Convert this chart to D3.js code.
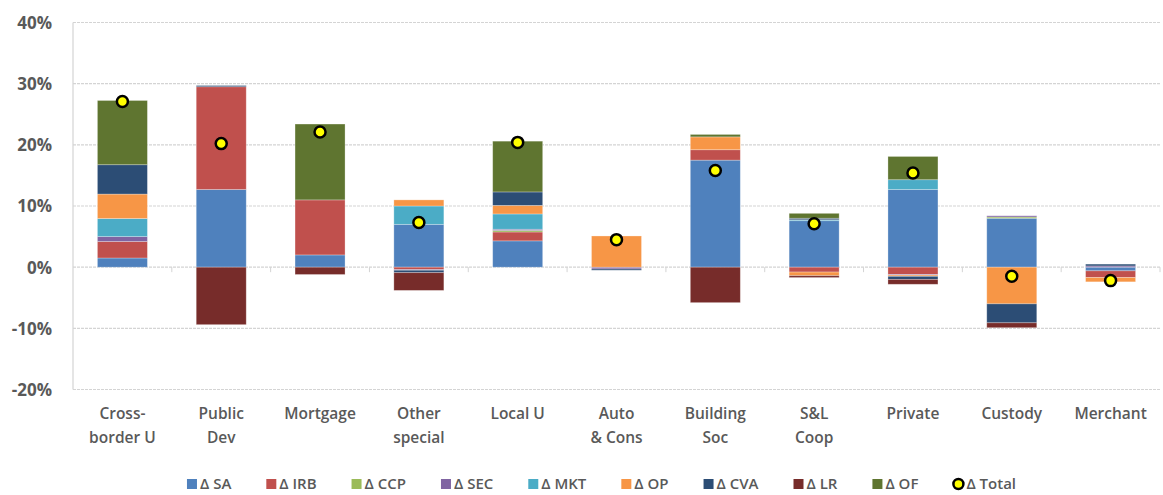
<!DOCTYPE html>
<html><head><meta charset="utf-8">
<script src="https://cdn.jsdelivr.net/npm/d3@7"></script>
<style>
body{margin:0;background:#fff;}
text{font-family:"Open Sans","Liberation Sans",sans-serif;}
</style></head>
<body><svg id="chart" width="1163" height="495"></svg>
<script>
const categories = ["Cross-border U","Public Dev","Mortgage","Other special","Local U","Auto & Cons","Building Soc","S&L Coop","Private","Custody","Merchant"];
const categoryLines = [["Cross-","border U"],["Public","Dev"],["Mortgage"],["Other","special"],["Local U"],["Auto","& Cons"],["Building","Soc"],["S&L","Coop"],["Private"],["Custody"],["Merchant"]];
const seriesNames = ["Δ SA","Δ IRB","Δ CCP","Δ SEC","Δ MKT","Δ OP","Δ CVA","Δ LR","Δ OF"];
const seriesColors = ["#4F81BD","#C0504D","#9BBB59","#8064A2","#4BACC6","#F79646","#2C4D75","#772C2A","#5F7530"];
const dSA  = [1.5, 12.7, 2.0, 7.0, 4.3, 0, 17.5, 7.6, 12.7, 8.0, -0.6];
const dIRB = [2.7, 16.8, 9.0, -0.4, 1.45, 0, 1.7, -0.8, -1.2, 0, -1.1];
const dCCP = [0, 0, 0, 0, 0.25, 0, 0, 0, 0, 0.2, 0];
const dSEC = [0.8, 0, 0, -0.1, 0.2, -0.3, 0, 0, -0.1, 0.2, 0.2];
const dMKT = [2.95, 0, 0, 3.0, 2.5, 0, 0, 0.15, 1.6, 0, 0];
const dOP  = [4.0, 0, 0, 1.0, 1.4, 5.1, 2.1, -0.6, -0.2, -6.0, -0.7];
const dCVA = [4.8, 0.2, 0, -0.4, 2.2, -0.2, 0, 0.25, -0.5, -3.1, 0.3];
const dLR  = [0, -9.4, -1.2, -2.9, 0, 0, -5.8, -0.3, -0.8, -0.8, 0];
const dOF  = [10.5, 0, 12.4, 0, 8.3, 0, 0.4, 0.8, 3.8, 0, 0];
const dTotal = [27.1, 20.2, 22.1, 7.3, 20.4, 4.5, 15.8, 7.1, 15.4, -1.5, -2.2];
const yTicks = [-20, -10, 0, 10, 20, 30, 40];
const totalName = "Δ Total";

const seriesValues = [dSA,dIRB,dCCP,dSEC,dMKT,dOP,dCVA,dLR,dOF];
const rows = categories.map((c,i)=>{
  const r = {cat:c};
  seriesNames.forEach((s,j)=> r[s] = seriesValues[j][i]);
  return r;
});

const svg = d3.select("#chart");
const pL = 73, pR = 1160, pT = 22.5, pB = 389.5;
const x = d3.scaleBand().domain(categories).range([pL,pR]).paddingInner(0).paddingOuter(0);
const y = d3.scaleLinear().domain([-20,40]).range([pB,pT]);
const gridColor = "#d4d4d4";

// gridlines
svg.append("g").selectAll("line").data(yTicks).join("line")
  .attr("x1",pL).attr("x2",pR)
  .attr("y1",d=>y(d)).attr("y2",d=>y(d))
  .attr("stroke",gridColor).attr("stroke-width",1.2).attr("stroke-dasharray","3,1");
// left axis line
svg.append("line").attr("x1",pL).attr("x2",pL).attr("y1",pT).attr("y2",pB)
  .attr("stroke",gridColor).attr("stroke-width",1.2);

// y labels
const yAxis = d3.axisLeft(y).tickValues(yTicks).tickFormat(d=>d+"%").tickSize(0).tickPadding(0);
const gy = svg.append("g").attr("transform",`translate(52,0)`).call(yAxis);
gy.select(".domain").remove();
gy.selectAll("text").attr("font-size",17).attr("font-weight",700).attr("fill","#595959")
  .attr("font-family","'Open Sans','Liberation Sans',sans-serif").attr("dy","0.35em");

// category tick marks along zero line
const bounds = categories.map(c=>x(c)).slice(1).concat([pR]);
svg.append("g").selectAll("line").data(bounds).join("line")
  .attr("x1",d=>d).attr("x2",d=>d).attr("y1",y(0)).attr("y2",y(0)+5)
  .attr("stroke",gridColor).attr("stroke-width",1);

// stacked bars
const stack = d3.stack().keys(seriesNames).offset(d3.stackOffsetDiverging);
const stacked = stack(rows);
const barW = 50;
svg.append("g").selectAll("g").data(stacked).join("g")
  .attr("fill",(d,i)=>seriesColors[i])
  .selectAll("rect").data(d=>d.filter(p=>p[1]-p[0]!==0)).join("rect")
  .attr("x",d=>x(d.data.cat)+x.bandwidth()/2-barW/2)
  .attr("width",barW)
  .attr("y",d=>y(Math.max(d[0],d[1])))
  .attr("height",d=>Math.abs(y(d[0])-y(d[1])))
  .attr("stroke","#ffffff").attr("stroke-opacity",0.35).attr("stroke-width",0.8);

// totals
svg.append("g").selectAll("circle").data(dTotal).join("circle")
  .attr("cx",(d,i)=>x(categories[i])+x.bandwidth()/2)
  .attr("cy",d=>y(d))
  .attr("r",5.5).attr("fill","#FFFF00").attr("stroke","#000").attr("stroke-width",2.5);

// category labels
const lab = svg.append("g").selectAll("text").data(categoryLines).join("text")
  .attr("x",(d,i)=>x(categories[i])+x.bandwidth()/2)
  .attr("y",419).attr("text-anchor","middle")
  .attr("font-size",15.5).attr("font-weight",600).attr("fill","#595959");
lab.selectAll("tspan").data(d=>d).join("tspan")
  .attr("x",function(){return this.parentNode.getAttribute("x");})
  .attr("dy",(d,i)=>i===0?0:24).text(d=>d);

// legend
const legItems = seriesNames.map((s,i)=>({name:s,color:seriesColors[i],type:"rect"}))
  .concat([{name:totalName,type:"dot"}]);
const lg = svg.append("g");
const ly = 484;
let cx = 0;
const gap = 35;
legItems.forEach(it=>{
  const g = lg.append("g").attr("transform",`translate(${cx},0)`);
  if(it.type==="rect"){
    g.append("rect").attr("x",0).attr("y",ly-5).attr("width",10).attr("height",10).attr("fill",it.color);
  } else {
    g.append("circle").attr("cx",5).attr("cy",ly).attr("r",5).attr("fill","#FFFF00").attr("stroke","#000").attr("stroke-width",2.5);
  }
  const t = g.append("text").attr("x",13).attr("y",ly).attr("dy","0.35em")
    .attr("font-size",15).attr("font-weight",600).attr("fill","#595959").text(it.name);
  const w = t.node().getComputedTextLength();
  cx += 13 + w + gap;
});
const total = cx - gap;
lg.attr("transform",`translate(${601.5 - total/2},0)`);
</script></body></html>
